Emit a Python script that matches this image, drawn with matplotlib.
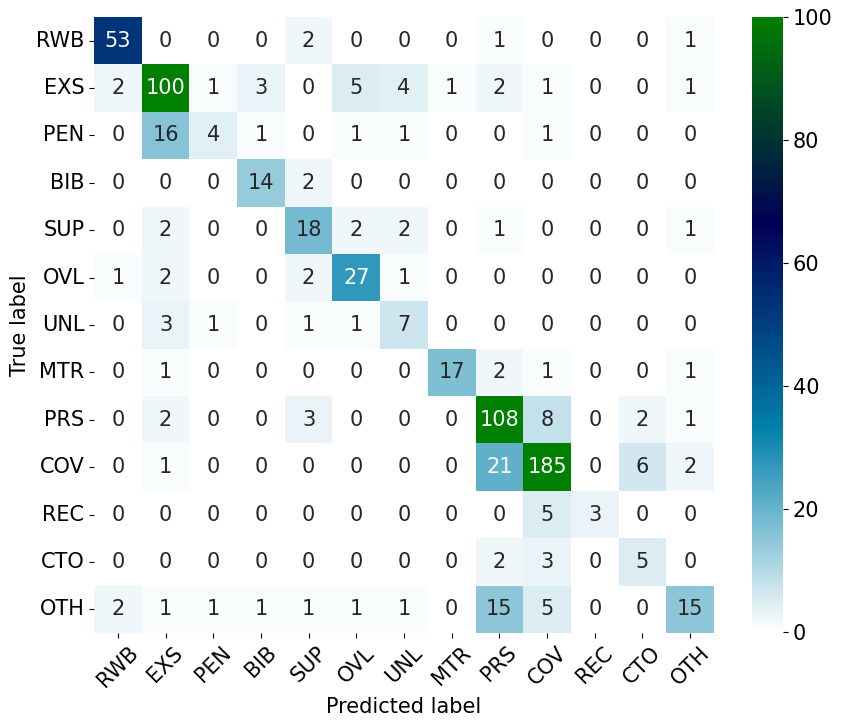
import numpy as np
import matplotlib
matplotlib.use("Agg")
import matplotlib.pyplot as plt
import seaborn as sns

labels = ["RWB", "EXS", "PEN", "BIB", "SUP", "OVL", "UNL", "MTR", "PRS", "COV", "REC", "CTO", "OTH"]

row_rwb = [53, 0, 0, 0, 2, 0, 0, 0, 1, 0, 0, 0, 1]
row_exs = [2, 100, 1, 3, 0, 5, 4, 1, 2, 1, 0, 0, 1]
row_pen = [0, 16, 4, 1, 0, 1, 1, 0, 0, 1, 0, 0, 0]
row_bib = [0, 0, 0, 14, 2, 0, 0, 0, 0, 0, 0, 0, 0]
row_sup = [0, 2, 0, 0, 18, 2, 2, 0, 1, 0, 0, 0, 1]
row_ovl = [1, 2, 0, 0, 2, 27, 1, 0, 0, 0, 0, 0, 0]
row_unl = [0, 3, 1, 0, 1, 1, 7, 0, 0, 0, 0, 0, 0]
row_mtr = [0, 1, 0, 0, 0, 0, 0, 17, 2, 1, 0, 0, 1]
row_prs = [0, 2, 0, 0, 3, 0, 0, 0, 108, 8, 0, 2, 1]
row_cov = [0, 1, 0, 0, 0, 0, 0, 0, 21, 185, 0, 6, 2]
row_rec = [0, 0, 0, 0, 0, 0, 0, 0, 0, 5, 3, 0, 0]
row_cto = [0, 0, 0, 0, 0, 0, 0, 0, 2, 3, 0, 5, 0]
row_oth = [2, 1, 1, 1, 1, 1, 1, 0, 15, 5, 0, 0, 15]

cm = np.array([row_rwb, row_exs, row_pen, row_bib, row_sup, row_ovl, row_unl,
               row_mtr, row_prs, row_cov, row_rec, row_cto, row_oth])

W, H = 842, 727
plt.rcParams['font.size'] = 15
fig = plt.figure(figsize=(W / 100, H / 100), dpi=100)

# place axes in pixel coords to match the reference layout
ax = fig.add_axes([94 / W, 1 - 633 / H, 620 / W, 616 / H])
cax = fig.add_axes([752 / W, 1 - 632 / H, 31 / W, 615 / H])

sns.heatmap(cm, annot=True, fmt="d", cmap="ocean_r", vmin=0, vmax=100,
            xticklabels=labels, yticklabels=labels, ax=ax, cbar_ax=cax,
            annot_kws={"fontsize": 15})

ax.set_xlabel("Predicted label", fontsize=15)
ax.set_ylabel("True label", fontsize=15)
ax.tick_params(axis='both', labelsize=15)
plt.setp(ax.get_xticklabels(), rotation=45)
plt.setp(ax.get_yticklabels(), rotation=0)
cax.tick_params(labelsize=15)

plt.savefig("out.png", dpi=100)
